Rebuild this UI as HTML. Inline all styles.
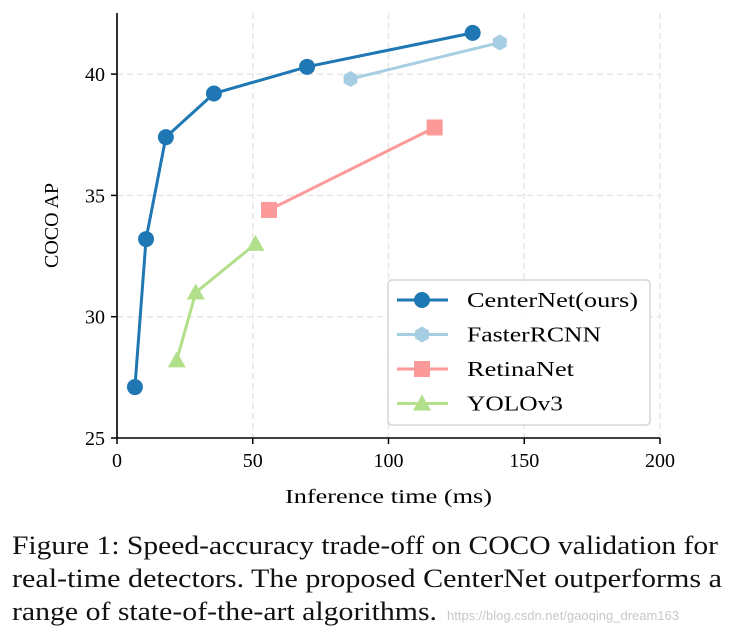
<!DOCTYPE html>
<html><head><meta charset="utf-8"><style>
body{margin:0;background:#fff;width:737px;height:640px;overflow:hidden;font-family:"Liberation Serif",serif}
svg text{font-family:"Liberation Serif",serif}
.wm{position:absolute;left:447px;top:608px;font-family:"Liberation Sans",sans-serif;font-size:13px;color:#c8c8c8}
</style></head><body>
<svg id="chart" width="737" height="530" style="position:absolute;left:0;top:0"></svg>
<svg width="737" height="110" style="position:absolute;left:0;top:530px">
<text x="12" y="24" font-size="26" textLength="706" lengthAdjust="spacingAndGlyphs" fill="#111">Figure 1: Speed-accuracy trade-off on COCO validation for</text>
<text x="12" y="57" font-size="26" textLength="710" lengthAdjust="spacingAndGlyphs" fill="#111">real-time detectors. The proposed CenterNet outperforms a</text>
<text x="12" y="90" font-size="26" textLength="425" lengthAdjust="spacingAndGlyphs" fill="#111">range of state-of-the-art algorithms.</text>
</svg>
<div class="wm">https://blog.csdn.net/gaoqing_dream163</div>
<script>
const xTicks=[0,50,100,150,200];
const yTicks=[25,30,35,40];
const seriesNames=["CenterNet(ours)","FasterRCNN","RetinaNet","YOLOv3"];
const centerX=[6.6,10.7,18,35.7,70,131];
const centerY=[27.1,33.2,37.4,39.2,40.3,41.7];
const fasterX=[86,141];
const fasterY=[39.8,41.3];
const retinaX=[56,117];
const retinaY=[34.4,37.8];
const yoloX=[22,29,51];
const yoloY=[28.2,31.0,33.0];
const NS="http://www.w3.org/2000/svg";
const svg=document.getElementById('chart');
const X0=117,X1=660,YB=438;
const xs=v=>X0+(v-0)/(200-0)*(X1-X0);
const ys=v=>YB-(v-25)/5*121.3;
function mk(t,a,p){const e=document.createElementNS(NS,t);for(const k in a)e.setAttribute(k,a[k]);(p||svg).appendChild(e);return e;}
xTicks.forEach(v=>{
 if(v>0){const g=mk('line',{x1:xs(v),x2:xs(v),y1:13,y2:YB,stroke:'#e6e6e6','stroke-width':1.5,'stroke-dasharray':'6,4'});
 }
 const t=mk('line',{x1:xs(v),x2:xs(v),y1:YB,y2:YB+6,stroke:'#000','stroke-width':1.5});
 
 const l=mk('text',{x:xs(v),y:YB+29,'text-anchor':'middle','font-size':20});l.textContent=v;
 
});
yTicks.forEach(v=>{
 if(v>25){const g=mk('line',{x1:X0,x2:X1,y1:ys(v),y2:ys(v),stroke:'#e6e6e6','stroke-width':1.5,'stroke-dasharray':'6,4'});
 }
 const t=mk('line',{x1:X0-6,x2:X0,y1:ys(v),y2:ys(v),stroke:'#000','stroke-width':1.5});
 
 const l=mk('text',{x:X0-12,y:ys(v)+7,'text-anchor':'end','font-size':20});l.textContent=v;
 
});
const ax=mk('path',{d:`M${X0} 13 V${YB} H${X1}`,fill:'none',stroke:'#000','stroke-width':1.6});

const xt=mk('text',{x:285,y:503,'font-size':20,textLength:207,lengthAdjust:'spacingAndGlyphs'});xt.textContent='Inference time (ms)';

const yt=mk('text',{x:0,y:0,'text-anchor':'middle','font-size':20,transform:`translate(58,${(13+YB)/2}) rotate(-90)`});yt.textContent='COCO AP';

function marker(type,x,y,c,p){
 if(type==='o')return mk('circle',{cx:x,cy:y,r:8,fill:c},p);
 if(type==='h'){let pts=[];for(let i=0;i<6;i++){const a=Math.PI/3*i+Math.PI/2;pts.push((x+8*Math.cos(a))+','+(y+8*Math.sin(a)));}return mk('polygon',{points:pts.join(' '),fill:c},p);}
 if(type==='s')return mk('rect',{x:x-8,y:y-8,width:16,height:16,fill:c},p);
 return mk('polygon',{points:`${x},${y-9} ${x-9},${y+7} ${x+9},${y+7}`,fill:c},p);
}
const defs=[[centerX,centerY,'#1f77b4','o','centernet'],[fasterX,fasterY,'#a6cee3','h','fasterrcnn'],[retinaX,retinaY,'#fb9a99','s','retinanet'],[yoloX,yoloY,'#b2df8a','^','yolov3']];
defs.forEach(([xa,ya,c,m,n])=>{
 const g=mk('g',{});
 mk('polyline',{points:xa.map((v,i)=>xs(v)+','+ys(ya[i])).join(' '),fill:'none',stroke:c,'stroke-width':3},g);
 xa.forEach((v,i)=>{const e=marker(m,xs(v),ys(ya[i]),c,g);});
});
const legendWidths=[171,134,107,96];
const lg=mk('g',{});
mk('rect',{x:388,y:280,width:262,height:145,rx:4,fill:'#fff','fill-opacity':0.85,stroke:'#d5d5d5','stroke-width':1.5},lg);
seriesNames.forEach((n,i)=>{
 const y=300+i*34.5;const d=defs[i];
 const e=mk('g',{},lg);
 mk('line',{x1:397,x2:448,y1:y,y2:y,stroke:d[2],'stroke-width':3},e);
 marker(d[3],422,y,d[2],e);
 const t=mk('text',{x:467,y:y+7,'font-size':21,textLength:legendWidths[i],lengthAdjust:'spacingAndGlyphs'},e);t.textContent=n;
});
</script>
</body></html>
